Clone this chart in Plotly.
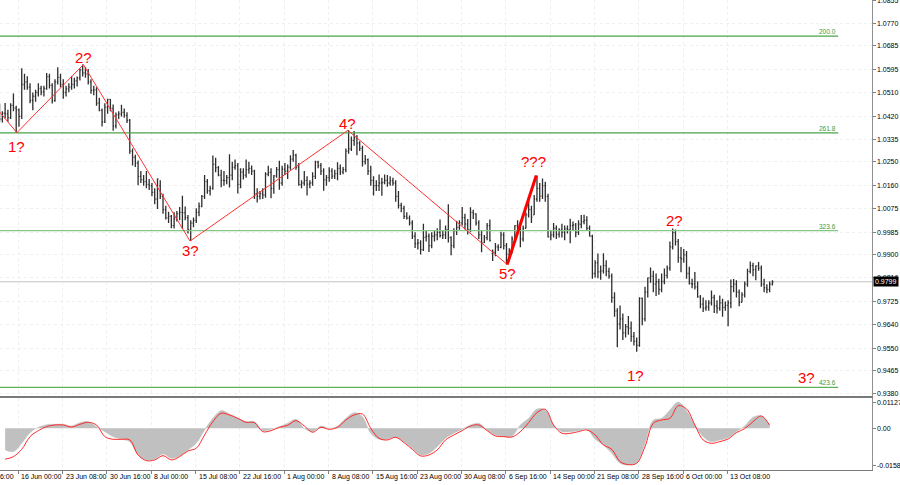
import datetime as dt
import pandas as pd
import plotly.graph_objects as go

# ---------------- data (EUR/USD, 8-hour bars) ----------------
first_bar = "2022-06-13 16:00"
first_full_day = "2022-06-14"
last_day = "2022-10-20"

opens = [
    1.0440,
    1.0410, 1.0432, 1.0430,  1.0416, 1.0462, 1.0451,  1.0445, 1.0420, 1.0540,  1.0550, 1.0530, 1.0480,
    1.0496, 1.0510, 1.0525,  1.0512, 1.0525, 1.0570,  1.0537, 1.0480, 1.0550,  1.0567, 1.0540, 1.0510,  1.0524, 1.0530, 1.0540,
    1.0554, 1.0565, 1.0595,  1.0584, 1.0580, 1.0550,  1.0518, 1.0520, 1.0470,  1.0443, 1.0400, 1.0455,  1.0484, 1.0450, 1.0385,
    1.0426, 1.0430, 1.0435,  1.0424, 1.0405, 1.0290,  1.0266, 1.0245, 1.0195,  1.0183, 1.0175, 1.0165,  1.0160, 1.0135, 1.0110,
    1.0160, 1.0120, 1.0070,  1.0039, 1.0045, 1.0010,  1.0035, 1.0055, 1.0060,  1.0059, 1.0040, 0.9995,  1.0019, 1.0030, 1.0060,
    1.0082, 1.0120, 1.0175,  1.0141, 1.0150, 1.0240,  1.0228, 1.0200, 1.0180,  1.0179, 1.0190, 1.0200,  1.0229, 1.0235, 1.0165,
    1.0211, 1.0200, 1.0220,  1.0225, 1.0215, 1.0130,  1.0120, 1.0130, 1.0125,  1.0203, 1.0210, 1.0150,  1.0197, 1.0220, 1.0170,
    1.0222, 1.0215, 1.0230,  1.0260, 1.0275, 1.0230,  1.0164, 1.0170, 1.0180,  1.0166, 1.0170, 1.0195,  1.0249, 1.0235, 1.0215,
    1.0182, 1.0190, 1.0215,  1.0196, 1.0205, 1.0225,  1.0212, 1.0220, 1.0290,  1.0298, 1.0330, 1.0340,  1.0320, 1.0300, 1.0250,
    1.0258, 1.0215, 1.0180,  1.0160, 1.0160, 1.0170,  1.0172, 1.0180, 1.0170,  1.0178, 1.0170, 1.0120,  1.0086, 1.0075, 1.0045,
    1.0038, 1.0020, 0.9970,  0.9942, 0.9945, 0.9920,  0.9966, 0.9970, 0.9935,  0.9970, 0.9975, 0.9985,  0.9972, 0.9975, 0.9995,
    0.9965, 0.9935, 0.9990,  1.0003, 1.0020, 1.0040,  1.0016, 0.9995, 1.0060,  1.0054, 1.0020, 0.9975,  0.9946, 0.9965, 1.0010,
    0.9905, 0.9910, 0.9930,  0.9928, 0.9975, 0.9935,  0.9902, 0.9915, 0.9960,  1.0010, 1.0000, 0.9960,  1.0000, 1.0050, 1.0070,
    1.0050, 1.0110, 1.0150,  1.0121, 1.0160, 1.0120,  0.9968, 0.9975, 1.0000,  0.9977, 0.9995, 0.9985,  0.9998, 0.9995, 1.0010,
    1.0013, 0.9985, 1.0015,  1.0025, 1.0030, 1.0000,  0.9970, 0.9830, 0.9870,  0.9836, 0.9840, 0.9860,  0.9838, 0.9820, 0.9740,
    0.9690, 0.9640, 0.9660,  0.9607, 0.9630, 0.9625,  0.9594, 0.9575, 0.9560,  0.9737, 0.9660, 0.9760,  0.9814, 0.9820, 0.9790,
    0.9799, 0.9770, 0.9800,  0.9823, 0.9850, 0.9930,  0.9984, 0.9950, 0.9890,  0.9885, 0.9900, 0.9830,  0.9792, 0.9790, 0.9780,
    0.9742, 0.9715, 0.9700,  0.9705, 0.9720, 0.9740,  0.9708, 0.9700, 0.9720,  0.9703, 0.9710, 0.9720,  0.9781, 0.9790, 0.9760,
    0.9722, 0.9750, 0.9790,  0.9838, 0.9860, 0.9845,  0.9859, 0.9850, 0.9790,  0.9776, 0.9770, 0.9790,
]
highs = [
    1.0468,
    1.0440, 1.0471, 1.0445,  1.0470, 1.0506, 1.0460,  1.0450, 1.0601, 1.0580,  1.0571, 1.0545, 1.0510,
    1.0520, 1.0545, 1.0535,  1.0535, 1.0583, 1.0580,  1.0545, 1.0560, 1.0605,  1.0580, 1.0560, 1.0535,  1.0545, 1.0571, 1.0565,
    1.0570, 1.0600, 1.0615,  1.0606, 1.0598, 1.0560,  1.0535, 1.0530, 1.0490,  1.0450, 1.0470, 1.0487,  1.0486, 1.0465, 1.0435,
    1.0440, 1.0464, 1.0450,  1.0436, 1.0410, 1.0300,  1.0276, 1.0255, 1.0215,  1.0200, 1.0215, 1.0185,  1.0170, 1.0150, 1.0187,
    1.0180, 1.0130, 1.0085,  1.0062, 1.0050, 1.0060,  1.0065, 1.0080, 1.0122,  1.0082, 1.0050, 1.0030,  1.0040, 1.0075, 1.0097,
    1.0125, 1.0200, 1.0185,  1.0160, 1.0273, 1.0265,  1.0234, 1.0220, 1.0215,  1.0200, 1.0278, 1.0250,  1.0258, 1.0245, 1.0225,
    1.0225, 1.0258, 1.0250,  1.0236, 1.0220, 1.0150,  1.0140, 1.0150, 1.0210,  1.0235, 1.0225, 1.0200,  1.0230, 1.0254, 1.0235,
    1.0245, 1.0240, 1.0274,  1.0294, 1.0280, 1.0245,  1.0180, 1.0215, 1.0195,  1.0180, 1.0210, 1.0254,  1.0254, 1.0245, 1.0225,
    1.0200, 1.0229, 1.0225,  1.0220, 1.0248, 1.0240,  1.0230, 1.0300, 1.0368,  1.0345, 1.0365, 1.0350,  1.0327, 1.0310, 1.0275,
    1.0262, 1.0235, 1.0195,  1.0180, 1.0202, 1.0190,  1.0202, 1.0200, 1.0195,  1.0190, 1.0180, 1.0140,  1.0096, 1.0085, 1.0060,
    1.0048, 1.0030, 0.9985,  0.9960, 0.9955, 1.0017,  0.9990, 0.9980, 0.9985,  0.9990, 1.0000, 1.0033,  0.9990, 1.0010, 1.0090,
    0.9970, 1.0000, 1.0028,  1.0030, 1.0080, 1.0055,  1.0035, 1.0079, 1.0070,  1.0056, 1.0030, 0.9990,  0.9975, 1.0020, 1.0033,
    0.9920, 0.9945, 0.9940,  0.9987, 0.9985, 0.9945,  0.9925, 0.9970, 1.0011,  1.0030, 1.0025, 1.0010,  1.0060, 1.0112, 1.0085,
    1.0125, 1.0198, 1.0170,  1.0187, 1.0175, 1.0130,  0.9990, 1.0020, 1.0010,  1.0000, 1.0017, 1.0010,  1.0010, 1.0036, 1.0025,
    1.0020, 1.0030, 1.0050,  1.0051, 1.0045, 1.0010,  0.9976, 0.9880, 0.9905,  0.9860, 0.9906, 0.9880,  0.9852, 0.9830, 0.9760,
    0.9700, 0.9710, 0.9680,  0.9640, 0.9670, 0.9650,  0.9610, 0.9590, 0.9741,  0.9740, 0.9780, 0.9815,  0.9853, 0.9840, 0.9830,
    0.9810, 0.9830, 0.9849,  0.9860, 0.9950, 0.9999,  0.9995, 0.9960, 0.9930,  0.9922, 0.9915, 0.9855,  0.9810, 0.9836, 0.9800,
    0.9749, 0.9740, 0.9730,  0.9730, 0.9766, 0.9750,  0.9730, 0.9747, 0.9735,  0.9725, 0.9730, 0.9808,  0.9809, 0.9805, 0.9770,
    0.9760, 0.9800, 0.9848,  0.9875, 0.9870, 0.9860,  0.9873, 0.9860, 0.9810,  0.9790, 0.9800, 0.9805,
]
lows = [
    1.0399,
    1.0397, 1.0412, 1.0400,  1.0410, 1.0440, 1.0359,  1.0381, 1.0410, 1.0520,  1.0520, 1.0470, 1.0443,
    1.0475, 1.0495, 1.0500,  1.0495, 1.0520, 1.0525,  1.0469, 1.0475, 1.0540,  1.0530, 1.0487, 1.0495,  1.0511, 1.0520, 1.0525,
    1.0533, 1.0555, 1.0570,  1.0565, 1.0540, 1.0505,  1.0500, 1.0460, 1.0440,  1.0382, 1.0395, 1.0430,  1.0440, 1.0366, 1.0375,
    1.0410, 1.0420, 1.0415,  1.0395, 1.0280, 1.0236,  1.0230, 1.0162, 1.0170,  1.0160, 1.0150, 1.0144,  1.0120, 1.0090, 1.0072,
    1.0110, 1.0055, 1.0033,  1.0020, 1.0000, 0.9999,  1.0025, 1.0030, 0.9998,  1.0030, 0.9980, 0.9952,  1.0004, 1.0020, 1.0045,
    1.0079, 1.0110, 1.0130,  1.0123, 1.0145, 1.0210,  1.0195, 1.0154, 1.0160,  1.0165, 1.0153, 1.0180,  1.0220, 1.0131, 1.0150,
    1.0183, 1.0190, 1.0205,  1.0200, 1.0110, 1.0097,  1.0108, 1.0110, 1.0115,  1.0195, 1.0113, 1.0130,  1.0190, 1.0145, 1.0160,
    1.0200, 1.0185, 1.0220,  1.0250, 1.0220, 1.0160,  1.0150, 1.0160, 1.0123,  1.0150, 1.0160, 1.0185,  1.0225, 1.0200, 1.0141,
    1.0160, 1.0175, 1.0185,  1.0185, 1.0180, 1.0200,  1.0203, 1.0210, 1.0280,  1.0290, 1.0310, 1.0274,  1.0290, 1.0232, 1.0240,
    1.0200, 1.0160, 1.0123,  1.0140, 1.0140, 1.0122,  1.0165, 1.0156, 1.0160,  1.0160, 1.0100, 1.0074,  1.0060, 1.0035, 1.0033,
    1.0010, 0.9960, 0.9926,  0.9920, 0.9901, 0.9915,  0.9950, 0.9911, 0.9925,  0.9950, 0.9955, 0.9965,  0.9960, 0.9960, 0.9947,
    0.9899, 0.9925, 0.9975,  0.9994, 1.0010, 0.9995,  0.9977, 0.9985, 1.0035,  1.0010, 0.9960, 0.9910,  0.9945, 0.9955, 0.9950,
    0.9877, 0.9895, 0.9915,  0.9925, 0.9920, 0.9864,  0.9876, 0.9905, 0.9945,  0.9990, 0.9929, 0.9950,  0.9999, 1.0040, 1.0020,
    1.0050, 1.0100, 1.0100,  1.0110, 1.0100, 0.9965,  0.9955, 0.9965, 0.9960,  0.9965, 0.9965, 0.9955,  0.9980, 0.9944, 0.9990,
    0.9966, 0.9975, 1.0000,  1.0015, 0.9990, 0.9970,  0.9810, 0.9815, 0.9812,  0.9807, 0.9830, 0.9820,  0.9810, 0.9720, 0.9668,
    0.9553, 0.9620, 0.9580,  0.9590, 0.9600, 0.9574,  0.9560, 0.9536, 0.9555,  0.9636, 0.9650, 0.9740,  0.9795, 0.9760, 0.9746,
    0.9750, 0.9760, 0.9790,  0.9811, 0.9840, 0.9920,  0.9935, 0.9870, 0.9835,  0.9870, 0.9810, 0.9789,  0.9775, 0.9770, 0.9739,
    0.9700, 0.9685, 0.9690,  0.9690, 0.9710, 0.9682,  0.9680, 0.9690, 0.9668,  0.9690, 0.9632, 0.9700,  0.9760, 0.9740, 0.9707,
    0.9722, 0.9740, 0.9780,  0.9830, 0.9820, 0.9805,  0.9840, 0.9780, 0.9760,  0.9756, 0.9760, 0.9785,
]
closes = [
    1.0410,
    1.0432, 1.0430, 1.0416,  1.0462, 1.0451, 1.0445,  1.0420, 1.0540, 1.0550,  1.0530, 1.0480, 1.0496,
    1.0510, 1.0525, 1.0512,  1.0525, 1.0570, 1.0537,  1.0480, 1.0550, 1.0567,  1.0540, 1.0510, 1.0524,  1.0530, 1.0540, 1.0554,
    1.0565, 1.0595, 1.0584,  1.0580, 1.0550, 1.0518,  1.0520, 1.0470, 1.0443,  1.0400, 1.0455, 1.0484,  1.0450, 1.0385, 1.0426,
    1.0430, 1.0435, 1.0424,  1.0405, 1.0290, 1.0266,  1.0245, 1.0195, 1.0183,  1.0175, 1.0165, 1.0160,  1.0135, 1.0110, 1.0185,
    1.0120, 1.0070, 1.0039,  1.0045, 1.0010, 1.0035,  1.0055, 1.0060, 1.0059,  1.0040, 0.9995, 1.0019,  1.0030, 1.0060, 1.0082,
    1.0120, 1.0175, 1.0141,  1.0150, 1.0240, 1.0228,  1.0200, 1.0180, 1.0179,  1.0190, 1.0200, 1.0229,  1.0235, 1.0165, 1.0211,
    1.0200, 1.0220, 1.0225,  1.0215, 1.0130, 1.0120,  1.0130, 1.0125, 1.0203,  1.0210, 1.0150, 1.0197,  1.0220, 1.0170, 1.0222,
    1.0215, 1.0230, 1.0260,  1.0275, 1.0230, 1.0164,  1.0170, 1.0180, 1.0166,  1.0170, 1.0195, 1.0249,  1.0235, 1.0215, 1.0182,
    1.0190, 1.0215, 1.0196,  1.0205, 1.0225, 1.0212,  1.0220, 1.0290, 1.0298,  1.0330, 1.0340, 1.0320,  1.0300, 1.0250, 1.0258,
    1.0215, 1.0180, 1.0160,  1.0160, 1.0170, 1.0172,  1.0180, 1.0170, 1.0178,  1.0170, 1.0120, 1.0086,  1.0075, 1.0045, 1.0038,
    1.0020, 0.9970, 0.9942,  0.9945, 0.9920, 0.9966,  0.9970, 0.9935, 0.9970,  0.9975, 0.9985, 0.9972,  0.9975, 0.9995, 0.9965,
    0.9935, 0.9990, 1.0003,  1.0020, 1.0040, 1.0016,  0.9995, 1.0060, 1.0054,  1.0020, 0.9975, 0.9946,  0.9965, 1.0010, 0.9954,
    0.9910, 0.9930, 0.9928,  0.9975, 0.9935, 0.9902,  0.9915, 0.9960, 1.0010,  1.0000, 0.9960, 1.0000,  1.0050, 1.0070, 1.0042,
    1.0110, 1.0150, 1.0121,  1.0160, 1.0120, 0.9968,  0.9975, 1.0000, 0.9977,  0.9995, 0.9985, 0.9998,  0.9995, 1.0010, 1.0013,
    0.9985, 1.0015, 1.0025,  1.0030, 1.0000, 0.9970,  0.9830, 0.9870, 0.9836,  0.9840, 0.9860, 0.9838,  0.9820, 0.9740, 0.9690,
    0.9640, 0.9660, 0.9607,  0.9630, 0.9625, 0.9594,  0.9575, 0.9560, 0.9737,  0.9660, 0.9760, 0.9814,  0.9820, 0.9790, 0.9799,
    0.9770, 0.9800, 0.9823,  0.9850, 0.9930, 0.9984,  0.9950, 0.9890, 0.9885,  0.9900, 0.9830, 0.9792,  0.9790, 0.9780, 0.9742,
    0.9715, 0.9700, 0.9705,  0.9720, 0.9740, 0.9708,  0.9700, 0.9720, 0.9703,  0.9710, 0.9720, 0.9781,  0.9790, 0.9760, 0.9722,
    0.9750, 0.9790, 0.9838,  0.9860, 0.9845, 0.9859,  0.9850, 0.9790, 0.9776,  0.9770, 0.9790, 0.9799,
]

# MACD pane (one value per trading day, 14 Jun .. 20 Oct)
macd_hist = [
    -0.00931, -0.01003, -0.00645, -0.00186, 0.00043, 0.00158, 0.00172, 0.00172, 0.00100, 0.00244,
    0.00287, 0.00072, -0.00143, -0.00358, -0.00473, -0.00573, -0.01146, -0.01361, -0.01333, -0.01103,
    -0.01290, -0.01189, -0.00931, -0.00645, -0.00072, 0.00430, 0.00760, 0.00616, 0.00430, 0.00287,
    0.00287, -0.00100, -0.00043, 0.00072, 0.00215, 0.00387, 0.00000, -0.00143, 0.00100, 0.00000,
    0.00100, 0.00430, 0.00674, 0.00502, -0.00215, -0.00473, -0.00473, -0.00387, -0.00573, -0.00860,
    -0.01146, -0.01075, -0.00788, -0.00430, -0.00215, -0.00043, 0.00143, 0.00215, -0.00072, -0.00287,
    -0.00358, -0.00330, 0.00143, 0.00430, 0.00831, 0.00788, 0.00143, -0.00143, -0.00143, -0.00100,
    -0.00043, -0.00473, -0.00717, -0.01075, -0.01505, -0.01581, -0.01476, -0.00645, 0.00358, 0.00430,
    0.00788, 0.01127, 0.00760, 0.00143, -0.00358, -0.00573, -0.00502, -0.00401, -0.00143, 0.00100,
    0.00473, 0.00530, 0.00100,
]
macd_signal = [
    -0.01330, -0.01218, -0.00903, -0.00358, -0.00100, 0.00072, 0.00143, 0.00143, 0.00057, 0.00172,
    0.00258, 0.00143, -0.00358, -0.00473, -0.00473, -0.00502, -0.01146, -0.01390, -0.01361, -0.01175,
    -0.01361, -0.01218, -0.00974, -0.00860, -0.00287, 0.00287, 0.00645, 0.00573, 0.00430, 0.00258,
    0.00244, -0.00143, -0.00100, 0.00043, 0.00129, 0.00330, 0.00100, -0.00172, 0.00043, -0.00043,
    0.00043, 0.00358, 0.00573, 0.00616, 0.00000, -0.00430, -0.00502, -0.00387, -0.00616, -0.00903,
    -0.01189, -0.01146, -0.00931, -0.00502, -0.00287, -0.00100, 0.00100, 0.00143, -0.00100, -0.00330,
    -0.00358, -0.00373, -0.00143, 0.00244, 0.00674, 0.00817, 0.00143, -0.00215, -0.00215, -0.00143,
    -0.00072, -0.00287, -0.00717, -0.00903, -0.01433, -0.01560, -0.01505, -0.00788, 0.00215, 0.00358,
    0.00430, 0.00974, 0.00831, 0.00143, -0.00502, -0.00645, -0.00573, -0.00459, -0.00186, -0.00014,
    0.00287, 0.00530, 0.00129,
]

# wave structure
zigzag_times = ["2022-06-13 16:00", "2022-06-15 20:00", "2022-06-27 20:00",
                "2022-07-14 16:00", "2022-08-10 16:00", "2022-09-06 20:00"]
zigzag_prices = [1.0440, 1.0359, 1.0615, 0.9952, 1.0368, 0.9864]
thrust_times = ["2022-09-06 20:00", "2022-09-12 08:00"]
thrust_prices = [0.9864, 1.0198]

wave_texts = ["1?", "2?", "3?", "4?", "5?", "???", "1?", "2?", "3?"]
wave_times = ["2022-06-15 20:00", "2022-06-27 20:00", "2022-07-14 16:00", "2022-08-10 16:00",
              "2022-09-06 20:00", "2022-09-12 00:00", "2022-09-28 08:00", "2022-10-05 00:00",
              "2022-10-26 20:00"]
wave_prices = [1.0306, 1.0641, 0.9916, 1.0392, 0.9830, 1.0250, 0.9446, 1.0030, 0.9440]

fib_names = ["200.0", "261.8", "323.6", "423.6"]
fib_levels = [1.0722, 1.0358, 0.9991, 0.9402]
fib_colors = ["#49a449", "#49a449", "#86c686", "#5db35d"]
fib_end = "2022-11-01 16:00"

price_ticks = [1.0855, 1.0770, 1.0685, 1.0595, 1.0510, 1.0420, 1.0335, 1.0250, 1.0160,
               1.0075, 0.9985, 0.9900, 0.9816, 0.9725, 0.9640, 0.9550, 0.9465, 0.9380]
date_labels = ["8 Jun 16:00", "16 Jun 00:00", "23 Jun 08:00", "30 Jun 16:00", "8 Jul 00:00",
               "15 Jul 08:00", "22 Jul 16:00", "1 Aug 00:00", "8 Aug 08:00", "15 Aug 16:00",
               "23 Aug 00:00", "30 Aug 08:00", "6 Sep 16:00", "14 Sep 00:00", "21 Sep 08:00",
               "28 Sep 16:00", "6 Oct 00:00", "13 Oct 08:00"]
macd_ticks = [0.01127, 0.0, -0.01581]
macd_tick_text = ["0.01127", "0.00", "-0.01581"]

# ---------------- trading-time axis (4h slots, weekends removed) ----------------
bdays = pd.bdate_range("2022-06-01", "2022-11-30")
slots = [d + pd.Timedelta(hours=h) for d in bdays for h in range(0, 24, 4)]
slot_of = {t: i for i, t in enumerate(slots)}
ORIGIN = slot_of[pd.Timestamp("2022-06-16 00:00")]


def xpos(ts):
    return slot_of[pd.Timestamp(ts)] - ORIGIN


U0, U1 = -13.2, 616.4  # visible range in 4h slots


def paper_x(u):
    return (u - U0) / (U1 - U0)


bar_starts = [pd.Timestamp(first_bar)] + [d + pd.Timedelta(hours=h)
                                          for d in pd.bdate_range(first_full_day, last_day)
                                          for h in (0, 8, 16)]
assert len(bar_starts) == len(opens) == len(highs) == len(lows) == len(closes)
bar_x = [xpos(t) + 0.5 for t in bar_starts]

macd_days = list(pd.bdate_range(first_full_day, last_day))
assert len(macd_days) == len(macd_hist) == len(macd_signal)
macd_x = [xpos(d) + 2.5 for d in macd_days]

label_times = [dt.datetime.strptime(f"{s} 2022", "%d %b %H:%M %Y") for s in date_labels]
label_u = [xpos(t) for t in label_times]

FONT = "Arial, Liberation Sans, sans-serif"
fig = go.Figure()

# Fibonacci extension lines
for name, lvl, col in zip(fib_names, fib_levels, fib_colors):
    fig.add_trace(go.Scatter(x=[xpos("2022-06-01 00:00"), xpos(fib_end)], y=[lvl, lvl],
                             mode="lines", line=dict(color=col, width=1.2),
                             hoverinfo="skip", xaxis="x", yaxis="y"))

# price bars
fig.add_trace(go.Ohlc(x=bar_x, open=opens, high=highs, low=lows, close=closes,
                      increasing=dict(line=dict(color="#2e2e2e", width=1.3)),
                      decreasing=dict(line=dict(color="#2e2e2e", width=1.3)),
                      tickwidth=0.35, xaxis="x", yaxis="y", hoverinfo="skip"))

# wave count lines
fig.add_trace(go.Scatter(x=[xpos(t) for t in zigzag_times], y=zigzag_prices, mode="lines",
                         line=dict(color="#ff3030", width=1), hoverinfo="skip",
                         xaxis="x", yaxis="y"))
fig.add_trace(go.Scatter(x=[xpos(t) for t in thrust_times], y=thrust_prices, mode="lines",
                         line=dict(color="#ff0000", width=3), hoverinfo="skip",
                         xaxis="x", yaxis="y"))

# MACD pane
fig.add_trace(go.Scatter(x=macd_x, y=macd_hist, mode="lines", fill="tozeroy",
                         fillcolor="#c0c0c0", line=dict(color="#c0c0c0", width=0.5, shape="spline"),
                         hoverinfo="skip", xaxis="x2", yaxis="y2"))
fig.add_trace(go.Scatter(x=macd_x, y=macd_signal, mode="lines",
                         line=dict(color="#ff2a2a", width=1, shape="spline"),
                         hoverinfo="skip", xaxis="x2", yaxis="y2"))

annotations = []
for txt, t, p in zip(wave_texts, wave_times, wave_prices):
    annotations.append(dict(x=xpos(t), y=p, xref="x", yref="y", text=txt, showarrow=False,
                            font=dict(family=FONT, size=15, color="#ff0000")))
for name, lvl, col in zip(fib_names, fib_levels, fib_colors):
    annotations.append(dict(x=xpos(fib_end), y=lvl, xref="x", yref="y", text=name,
                            showarrow=False, xanchor="right", yanchor="bottom", yshift=-1,
                            font=dict(family=FONT, size=6.5, color="#3d9a3d")))
for lbl, u in zip(date_labels, label_u):
    annotations.append(dict(x=paper_x(u), y=0, xref="paper", yref="paper", text=lbl,
                            showarrow=False, xanchor="left", yanchor="top", xshift=1, yshift=-1,
                            font=dict(family=FONT, size=7, color="#000000")))
# right-hand price scale labels
for p in price_ticks:
    annotations.append(dict(x=1, y=p, xref="paper", yref="y", text=f"{p:.4f}",
                            showarrow=False, xanchor="left", yanchor="middle", xshift=3,
                            font=dict(family=FONT, size=7, color="#000000")))
for v, t in zip(macd_ticks, macd_tick_text):
    annotations.append(dict(x=1, y=v, xref="paper", yref="y2", text=t,
                            showarrow=False, xanchor="left", yanchor="middle", xshift=3,
                            font=dict(family=FONT, size=7, color="#000000")))
last_close = closes[-1]
annotations.append(dict(x=1, y=last_close, xref="paper", yref="y", text=f"{last_close:.4f}",
                        showarrow=False, xanchor="left", yanchor="middle", xshift=1,
                        bgcolor="#000000", borderpad=1,
                        font=dict(family=FONT, size=7, color="#ffffff")))

shapes = [dict(type="line", xref="paper", yref="y", x0=0, x1=1, y0=last_close, y1=last_close,
               line=dict(color="#c4c4c4", width=1), layer="below")]

grid = dict(showgrid=True, gridcolor="#efefef", griddash="dot", zeroline=False, automargin=False)

fig.update_layout(
    width=900, height=485,
    margin=dict(l=0, r=28, t=0, b=15, pad=0, autoexpand=False),
    paper_bgcolor="#ffffff", plot_bgcolor="#ffffff",
    showlegend=False, hovermode=False,
    annotations=annotations, shapes=shapes,
    xaxis=dict(domain=[0, 1], range=[U0, U1], anchor="y", tickmode="array", tickvals=label_u,
               showticklabels=False, ticks="", showline=True, linecolor="#7a7a7a", linewidth=1,
               rangeslider=dict(visible=False), **grid),
    yaxis=dict(domain=[74 / 470, 1], range=[0.93699, 1.08575], side="right", anchor="x",
               tickmode="array", tickvals=price_ticks, showticklabels=False,
               ticks="outside", ticklen=3, tickcolor="#808080",
               showline=True, linecolor="#909090", linewidth=1, **grid),
    xaxis2=dict(domain=[0, 1], range=[U0, U1], anchor="y2", matches="x", tickmode="array",
                tickvals=label_u, showticklabels=False, ticks="outside", ticklen=3,
                tickcolor="#808080", showline=True, mirror=True, linecolor="#7a7a7a",
                linewidth=1, **grid),
    yaxis2=dict(domain=[0, 72 / 470], range=[-0.01793, 0.01303], side="right", anchor="x2",
                tickmode="array", tickvals=macd_ticks, showticklabels=False,
                ticks="outside", ticklen=3, tickcolor="#808080",
                showline=True, linecolor="#909090", linewidth=1, showgrid=False, zeroline=False,
                automargin=False),
)

# remove the browser's default page margin so the 900x485 figure fills the window exactly
fig.write_html("out.html",
               config={"displayModeBar": False, "staticPlot": True},
               post_script="document.body.style.margin='0';document.body.style.padding='0';"
                           "document.body.style.overflow='hidden';")
